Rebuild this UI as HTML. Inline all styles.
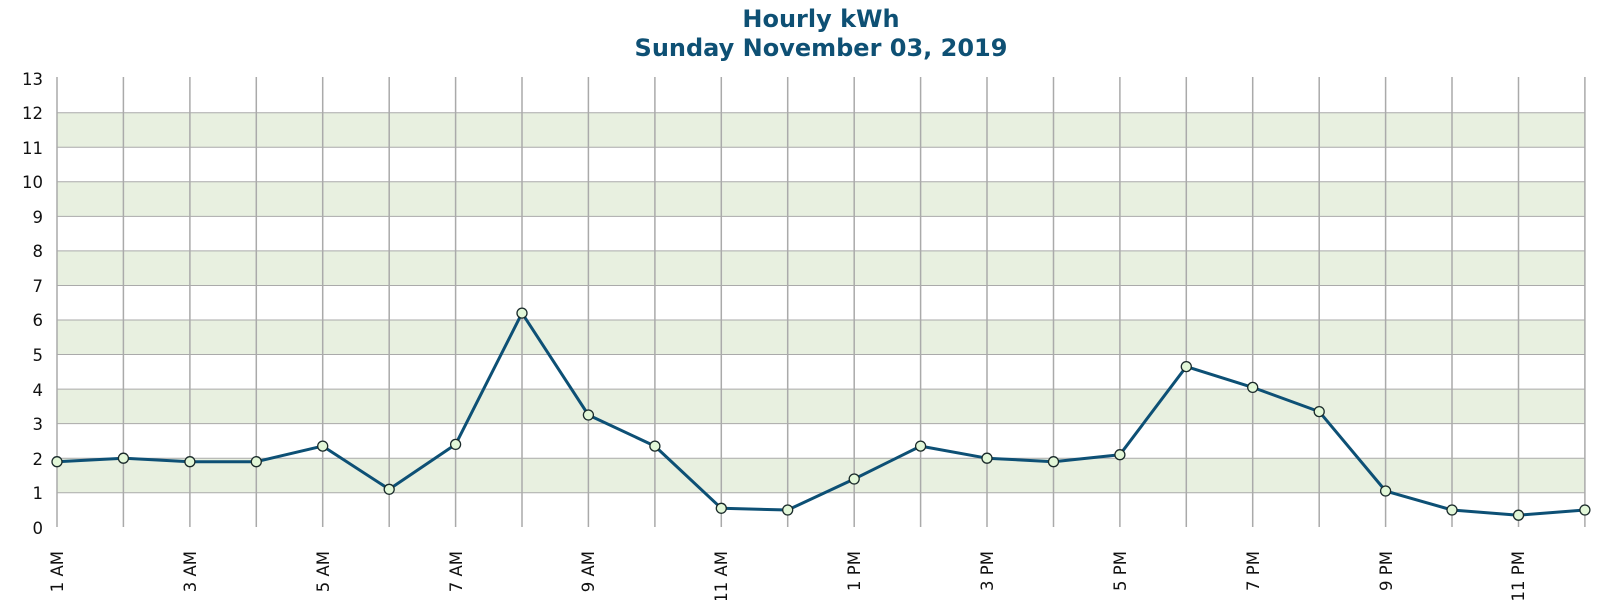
<!DOCTYPE html>
<html><head><meta charset="utf-8"><style>
html,body{margin:0;padding:0;background:#fff;}
svg{display:block;font-family:"DejaVu Sans","Liberation Sans",sans-serif;}
</style></head><body>
<svg width="1600" height="600" viewBox="0 0 1600 600">
<text x="821" y="27" text-anchor="middle" font-size="24" font-weight="bold" fill="#0e5074">Hourly kWh</text>
<text x="821" y="56" text-anchor="middle" font-size="24" font-weight="bold" fill="#0e5074">Sunday November 03, 2019</text>
<g fill="#e8f0e0">
<rect x="57" y="458.2" width="1528" height="34.55"/>
<rect x="57" y="389.1" width="1528" height="34.55"/>
<rect x="57" y="320.0" width="1528" height="34.55"/>
<rect x="57" y="250.9" width="1528" height="34.55"/>
<rect x="57" y="181.8" width="1528" height="34.55"/>
<rect x="57" y="112.7" width="1528" height="34.55"/>
</g>
<g stroke="#aaa" stroke-width="1">
<line x1="57" x2="1585" y1="492.75" y2="492.75"/><line x1="57" x2="1585" y1="458.2" y2="458.2"/>
<line x1="57" x2="1585" y1="423.65" y2="423.65"/><line x1="57" x2="1585" y1="389.1" y2="389.1"/>
<line x1="57" x2="1585" y1="354.55" y2="354.55"/><line x1="57" x2="1585" y1="320" y2="320"/>
<line x1="57" x2="1585" y1="285.45" y2="285.45"/><line x1="57" x2="1585" y1="250.9" y2="250.9"/>
<line x1="57" x2="1585" y1="216.35" y2="216.35"/><line x1="57" x2="1585" y1="181.8" y2="181.8"/>
<line x1="57" x2="1585" y1="147.25" y2="147.25"/><line x1="57" x2="1585" y1="112.7" y2="112.7"/>
</g>
<g stroke="#aaa" stroke-width="1.5">
<line x1="57" x2="57" y1="77" y2="527"/><line x1="123.4" x2="123.4" y1="77" y2="527"/>
<line x1="189.9" x2="189.9" y1="77" y2="527"/><line x1="256.3" x2="256.3" y1="77" y2="527"/>
<line x1="322.7" x2="322.7" y1="77" y2="527"/><line x1="389.2" x2="389.2" y1="77" y2="527"/>
<line x1="455.6" x2="455.6" y1="77" y2="527"/><line x1="522" x2="522" y1="77" y2="527"/>
<line x1="588.4" x2="588.4" y1="77" y2="527"/><line x1="654.9" x2="654.9" y1="77" y2="527"/>
<line x1="721.3" x2="721.3" y1="77" y2="527"/><line x1="787.7" x2="787.7" y1="77" y2="527"/>
<line x1="854.2" x2="854.2" y1="77" y2="527"/><line x1="920.6" x2="920.6" y1="77" y2="527"/>
<line x1="987" x2="987" y1="77" y2="527"/><line x1="1053.5" x2="1053.5" y1="77" y2="527"/>
<line x1="1119.9" x2="1119.9" y1="77" y2="527"/><line x1="1186.3" x2="1186.3" y1="77" y2="527"/>
<line x1="1252.7" x2="1252.7" y1="77" y2="527"/><line x1="1319.2" x2="1319.2" y1="77" y2="527"/>
<line x1="1385.6" x2="1385.6" y1="77" y2="527"/><line x1="1452" x2="1452" y1="77" y2="527"/>
<line x1="1518.5" x2="1518.5" y1="77" y2="527"/><line x1="1584.9" x2="1584.9" y1="77" y2="527"/>
</g>
<g font-size="16.5" fill="#111" text-anchor="end">
<text x="43" y="534">0</text><text x="43" y="499">1</text><text x="43" y="465">2</text>
<text x="43" y="430">3</text><text x="43" y="396">4</text><text x="43" y="361">5</text>
<text x="43" y="326">6</text><text x="43" y="292">7</text><text x="43" y="257">8</text>
<text x="43" y="223">9</text><text x="43" y="188">10</text><text x="43" y="154">11</text>
<text x="43" y="119">12</text><text x="43" y="85">13</text>
</g>
<g font-size="16.5" fill="#111" text-anchor="end">
<text transform="translate(63,551) rotate(-90)">1 AM</text>
<text transform="translate(196,551) rotate(-90)">3 AM</text>
<text transform="translate(329,551) rotate(-90)">5 AM</text>
<text transform="translate(462,551) rotate(-90)">7 AM</text>
<text transform="translate(594,551) rotate(-90)">9 AM</text>
<text transform="translate(727,551) rotate(-90)">11 AM</text>
<text transform="translate(860,551) rotate(-90)">1 PM</text>
<text transform="translate(993,551) rotate(-90)">3 PM</text>
<text transform="translate(1126,551) rotate(-90)">5 PM</text>
<text transform="translate(1259,551) rotate(-90)">7 PM</text>
<text transform="translate(1392,551) rotate(-90)">9 PM</text>
<text transform="translate(1524,551) rotate(-90)">11 PM</text>
</g>
<polyline fill="none" stroke="#0d5075" stroke-width="3" stroke-linejoin="round" points="57,461.7 123.4,458.2 189.9,461.7 256.3,461.7 322.7,446.1 389.2,489.3 455.6,444.4 522,313.1 588.4,415 654.9,446.1 721.3,508.3 787.7,510 854.2,479 920.6,446.1 987,458.2 1053.5,461.7 1119.9,454.7 1186.3,366.6 1252.7,387.4 1319.2,411.6 1385.6,491 1452,510 1518.5,515.2 1584.9,510"/>
<g fill="#e2f7d8" stroke="#1a2a2a" stroke-width="1.3">
<circle cx="57" cy="461.7" r="5"/><circle cx="123.4" cy="458.2" r="5"/><circle cx="189.9" cy="461.7" r="5"/>
<circle cx="256.3" cy="461.7" r="5"/><circle cx="322.7" cy="446.1" r="5"/><circle cx="389.2" cy="489.3" r="5"/>
<circle cx="455.6" cy="444.4" r="5"/><circle cx="522" cy="313.1" r="5"/><circle cx="588.4" cy="415" r="5"/>
<circle cx="654.9" cy="446.1" r="5"/><circle cx="721.3" cy="508.3" r="5"/><circle cx="787.7" cy="510" r="5"/>
<circle cx="854.2" cy="479" r="5"/><circle cx="920.6" cy="446.1" r="5"/><circle cx="987" cy="458.2" r="5"/>
<circle cx="1053.5" cy="461.7" r="5"/><circle cx="1119.9" cy="454.7" r="5"/><circle cx="1186.3" cy="366.6" r="5"/>
<circle cx="1252.7" cy="387.4" r="5"/><circle cx="1319.2" cy="411.6" r="5"/><circle cx="1385.6" cy="491" r="5"/>
<circle cx="1452" cy="510" r="5"/><circle cx="1518.5" cy="515.2" r="5"/><circle cx="1584.9" cy="510" r="5"/>
</g>
</svg>
</body></html>
